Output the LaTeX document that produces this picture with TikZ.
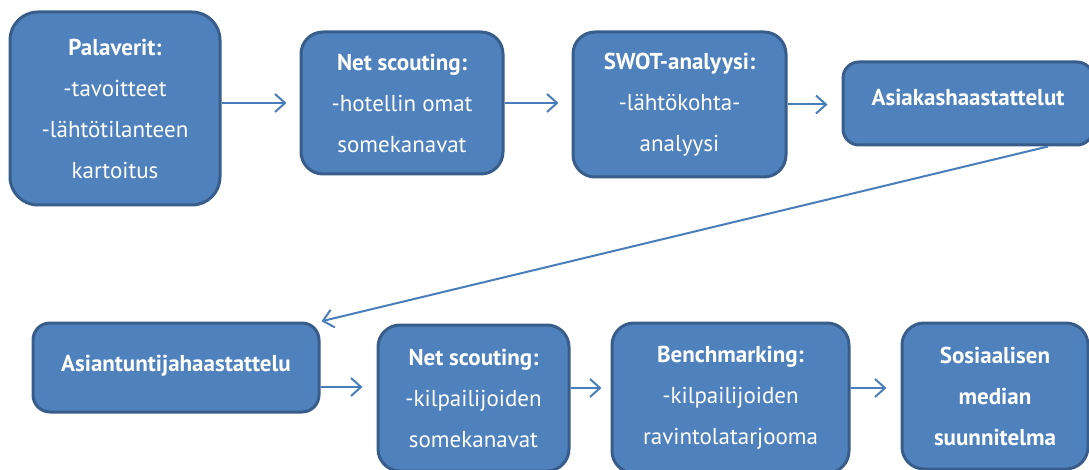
\documentclass[tikz,border=0pt]{standalone}
\usepackage{fontspec}
\setmainfont{PT Sans}
\usetikzlibrary{arrows.meta,calc}
\definecolor{boxfill}{HTML}{4F81BD}
\definecolor{boxdraw}{HTML}{385D8A}
\definecolor{arrowc}{HTML}{4A7EBB}
\tikzset{
  stagebox/.style={draw=boxdraw, fill=boxfill, line width=3pt, rounded corners=22pt,
    text=white, align=center, font=\fontsize{23}{41}\selectfont, inner sep=0pt},
  flow/.style={draw=arrowc, line width=2pt,
    -{Straight Barb[length=10pt,width=18pt,line width=2pt]}},
}
\begin{document}
\begin{tikzpicture}[x=1pt,y=-1pt]
\useasboundingbox (0,0) rectangle (1089,470);
\clip (0,0) rectangle (1089,470);
\node[stagebox, rounded corners=28pt, minimum width=210pt, minimum height=193pt] (b1) at (115,108.5)
  {\textbf{Palaverit:}\\-tavoitteet\\-lähtötilanteen\\kartoitus};
\node[stagebox, minimum width=202pt, minimum height=142pt] (b2) at (402,103)
  {\textbf{Net scouting:}\\-hotellin omat\\somekanavat};
\node[stagebox, minimum width=213pt, minimum height=145pt] (b3) at (679.5,104.5)
  {\textbf{SWOT-analyysi:}\\-lähtökohta-\\analyysi};
\node[stagebox, rounded corners=16pt, minimum width=250pt, minimum height=83pt] (b4) at (968,103.5)
  {\raisebox{-2.5pt}[0pt][0pt]{\textbf{Asiakashaastattelut}}};
\node[stagebox, rounded corners=17pt, minimum width=286pt, minimum height=89pt] (b5) at (176,367.5)
  {\raisebox{-3.5pt}[0pt][0pt]{\textbf{Asiantuntijahaastattelu}}};
\node[stagebox, minimum width=191pt, minimum height=146pt] (b6) at (473.5,398)
  {\textbf{Net scouting:}\\-kilpailijoiden\\somekanavat};
\node[stagebox, minimum width=237pt, minimum height=150pt] (b7) at (730.5,398)
  {\textbf{Benchmarking:}\\-kilpailijoiden\\ravintolatarjooma};
\node[stagebox, minimum width=186pt, minimum height=146pt] (b8) at (995,396)
  {\textbf{Sosiaalisen}\\\textbf{median}\\\textbf{suunnitelma}};
\draw[flow, shorten >=13pt] (b1.east |- b2.west) -- (b2.west);
\draw[flow, shorten >=13pt] (b2.east) -- (b3.west |- b2.east);
\draw[flow, shorten >=14pt] (b3.east) -- (b4.west |- b3.east);
\draw[flow, shorten >=1pt] ([xshift=80pt]b4.south) -- (b5.north east);
\coordinate (a5) at ([yshift=-19.5pt]b5.east);
\draw[flow, shorten >=14pt] (a5) -- (a5 -| b6.west);
\coordinate (a6) at ([yshift=10pt]b6.east);
\draw[flow, shorten >=9pt] (a6) -- (a6 -| b7.west);
\coordinate (a7) at ([yshift=10pt]b7.east);
\draw[flow, shorten >=14pt] (a7) -- (a7 -| b8.west);
\end{tikzpicture}
\end{document}
